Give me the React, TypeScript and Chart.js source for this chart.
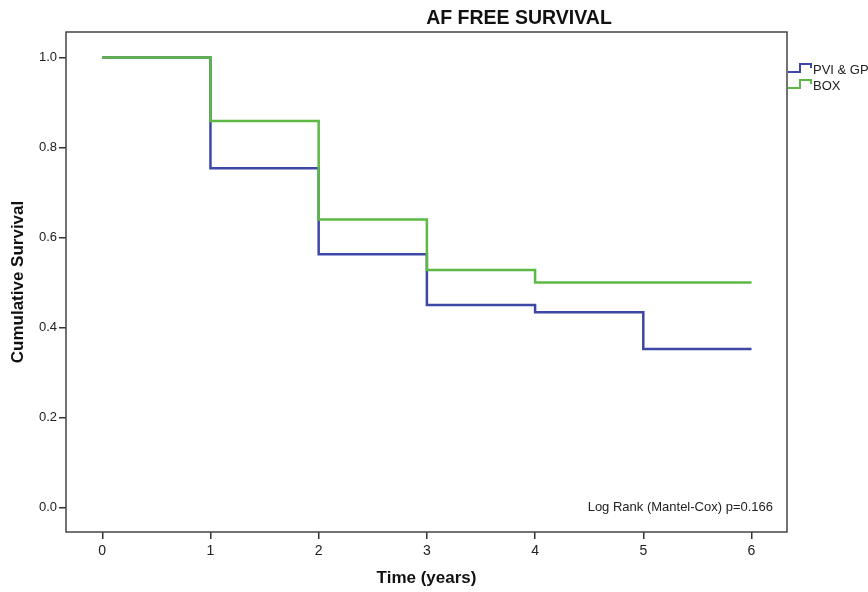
import React, { useEffect, useRef } from 'react';
import { Chart, registerables } from 'chart.js';

Chart.register(...registerables);

const times = [0, 1, 2, 3, 4, 5, 6];
const pviGp = [1.0, 0.754, 0.563, 0.45, 0.434, 0.352, 0.352];
const box = [1.0, 0.859, 0.64, 0.528, 0.5, 0.5, 0.5];
const xTicks = [0, 1, 2, 3, 4, 5, 6];
const yTicks = [0, 0.2, 0.4, 0.6, 0.8, 1.0];
const seriesNames = ['PVI & GP', 'BOX'];
const seriesColors = ['#3d48a6', '#5db846'];
const chartTitle = 'AF FREE SURVIVAL';
const xTitle = 'Time (years)';
const yTitle = 'Cumulative Survival';
const note = 'Log Rank (Mantel-Cox) p=0.166';

const FONT = '"Liberation Sans", Arial, sans-serif';

const textPlugin = {
  id: 'textPlugin',
  beforeDatasetsDraw(chart: any) {
    const { ctx, chartArea } = chart;
    ctx.save();
    ctx.strokeStyle = '#444';
    ctx.lineWidth = 1.5;
    ctx.strokeRect(chartArea.left, chartArea.top, chartArea.right - chartArea.left, chartArea.bottom - chartArea.top);
    ctx.restore();
  },
  afterDraw(chart: any) {
    const { ctx, chartArea } = chart;
    ctx.save();
    ctx.fillStyle = '#111';
    ctx.textBaseline = 'middle';
    // title
    ctx.textAlign = 'center';
    ctx.font = `bold 19.5px ${FONT}`;
    ctx.fillText(chartTitle, 519, 19);
    // x title
    ctx.font = `bold 17px ${FONT}`;
    ctx.fillText(xTitle, (chartArea.left + chartArea.right) / 2, 578);
    // y title
    ctx.save();
    ctx.translate(18, (chartArea.top + chartArea.bottom) / 2);
    ctx.rotate(-Math.PI / 2);
    ctx.fillText(yTitle, 0, 0);
    ctx.restore();
    // note
    ctx.font = `13px ${FONT}`;
    ctx.textAlign = 'right';
    ctx.fillStyle = '#222';
    ctx.fillText(note, 773, 507);
    // legend
    const ys = [70, 86];
    seriesNames.forEach((name, i) => {
      const y = ys[i];
      ctx.strokeStyle = seriesColors[i];
      ctx.lineWidth = 2;
      ctx.beginPath();
      ctx.moveTo(788, y + 2);
      ctx.lineTo(800, y + 2);
      ctx.lineTo(800, y - 6);
      ctx.lineTo(811, y - 6);
      ctx.lineTo(811, y - 2);
      ctx.stroke();
      ctx.fillStyle = '#222';
      ctx.textAlign = 'left';
      ctx.font = `13px ${FONT}`;
      ctx.fillText(name, 813, y);
    });
    ctx.restore();
  },
};

export default function App() {
  const ref = useRef<HTMLCanvasElement | null>(null);
  useEffect(() => {
    if (!ref.current) return;
    const chart = new Chart(ref.current, {
      type: 'line',
      data: {
        datasets: [
          {
            label: seriesNames[0],
            data: times.map((t, i) => ({ x: t, y: pviGp[i] })),
            borderColor: seriesColors[0],
            borderWidth: 2.5,
            stepped: 'before',
            pointRadius: 0,
            fill: false,
            order: 2,
          },
          {
            label: seriesNames[1],
            data: times.map((t, i) => ({ x: t, y: box[i] })),
            borderColor: seriesColors[1],
            borderWidth: 2.5,
            stepped: 'before',
            pointRadius: 0,
            fill: false,
            order: 1,
          },
        ],
      },
      options: {
        animation: false,
        responsive: false,
        devicePixelRatio: 1,
        layout: { padding: { top: 32, right: 81, left: 0, bottom: 0 } },
        plugins: { legend: { display: false }, title: { display: false }, tooltip: { enabled: false } },
        scales: {
          x: {
            type: 'linear',
            min: -0.335,
            max: 6.328,
            afterBuildTicks: (s: any) => {
              s.ticks = xTicks.map((v) => ({ value: v }));
            },
            afterFit: (s: any) => {
              s.height = 60;
            },
            ticks: {
              font: { family: FONT, size: 14 },
              color: '#222',
              padding: 4,
              autoSkip: false,
              maxRotation: 0,
              callback: (v: any) => String(v),
            },
            grid: { drawOnChartArea: false, tickLength: 7, color: '#333', lineWidth: 1.5 },
            border: { display: false },
          },
          y: {
            type: 'linear',
            min: -0.0544,
            max: 1.0567,
            afterBuildTicks: (s: any) => {
              s.ticks = yTicks.map((v) => ({ value: v }));
            },
            afterFit: (s: any) => {
              s.width = 66;
            },
            ticks: {
              font: { family: FONT, size: 13 },
              color: '#222',
              padding: 2,
              autoSkip: false,
              callback: (v: any) => Number(v).toFixed(1),
            },
            grid: { drawOnChartArea: false, tickLength: 7, color: '#333', lineWidth: 1.5 },
            border: { display: false },
          },
        },
      },
      plugins: [textPlugin],
    });
    return () => chart.destroy();
  }, []);
  return (
    <div style={{ position: 'absolute', left: 0, top: 0, width: 868, height: 592, background: '#fff' }}>
      <canvas ref={ref} width={868} height={592} style={{ width: 868, height: 592, display: 'block' }} />
    </div>
  );
}
